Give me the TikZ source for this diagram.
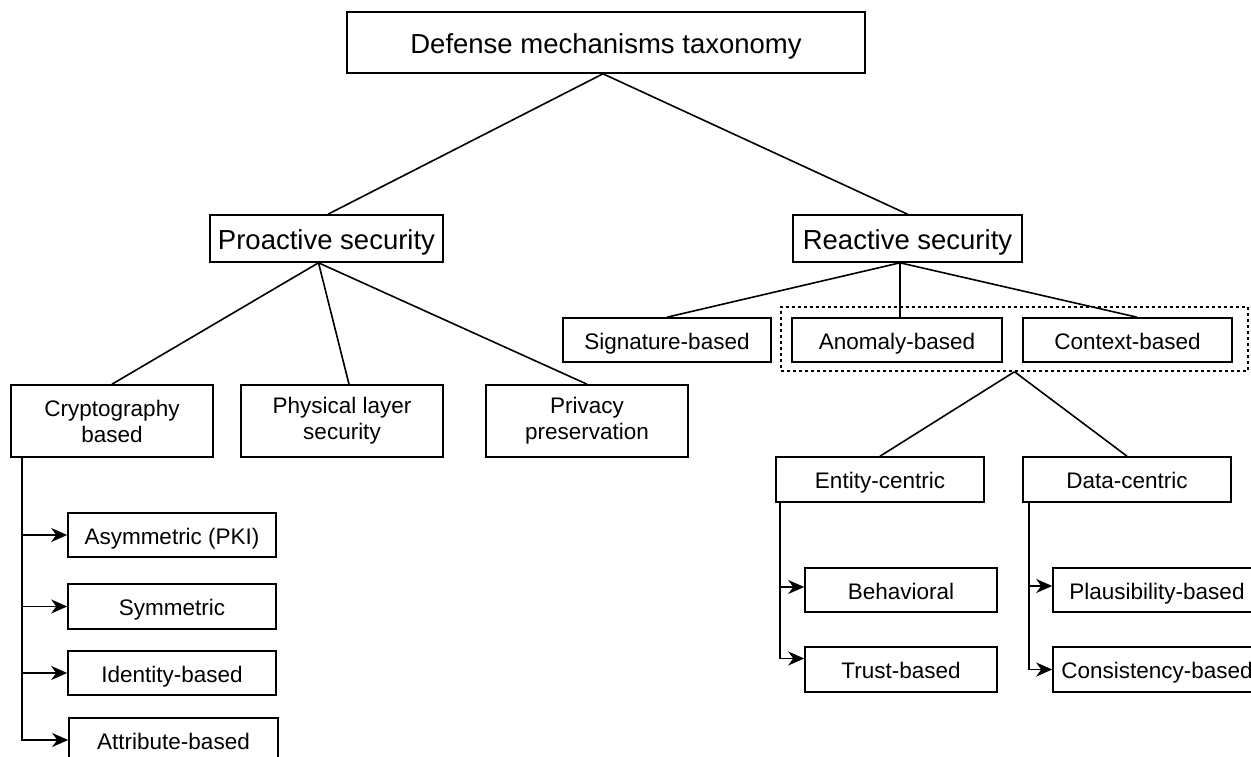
\documentclass[tikz,border=0pt]{standalone}
\usepackage{fontspec}
\setmainfont{Liberation Sans}
\usetikzlibrary{arrows.meta}
\begin{document}
\begin{tikzpicture}[x=1pt,y=-1pt,
  bx/.style={draw,line width=1.6pt,inner sep=0pt,align=center,minimum width=#1},
  big/.style={font=\fontsize{27.5}{33}\selectfont,text height=22pt,text depth=0pt},
  sm/.style={font=\fontsize{22.5}{26}\selectfont,text height=18pt,text depth=0pt},
  sm2/.style={font=\fontsize{22.5}{26}\selectfont},
  ln/.style={line width=1.6pt},
  arr/.style={line width=1.6pt,-{Stealth[length=16pt,width=14pt,inset=5pt]}}]
\useasboundingbox (0,0) rectangle (1251,757);
% level 0-1
\node[bx=518pt,big,minimum height=61pt] (top) at (606,42.5) {Defense mechanisms taxonomy};
\node[bx=233pt,big,minimum height=47pt] (pro) at (326.5,238.5) {Proactive security};
\node[bx=229pt,big,minimum height=47pt] (rea) at (907.5,238.5) {Reactive security};
% proactive children
\node[bx=202pt,sm2,minimum height=72pt] (cry) at (112,421) {Cryptography\\based};
\node[bx=202pt,sm2,minimum height=72pt] (phy) at (342,421) {Physical layer\\security};
\node[bx=202pt,sm2,minimum height=72pt] (pri) at (587,421) {Privacy\\preservation};
% crypto list
\node[bx=208pt,sm,minimum height=44pt] (asy) at (172,535) {Asymmetric (PKI)};
\node[bx=208pt,sm,minimum height=45pt] (sym) at (172,606.5) {Symmetric};
\node[bx=208pt,sm,minimum height=44pt] (ide) at (172,673) {Identity-based};
\node[bx=209pt,sm,minimum height=44pt] (att) at (173.5,740) {Attribute-based};
% reactive children
\node[bx=208pt,sm,minimum height=44pt] (sig) at (667,340) {Signature-based};
\node[bx=210pt,sm,minimum height=44pt] (ano) at (897,340) {Anomaly-based};
\node[bx=209pt,sm,minimum height=44pt] (ctx) at (1127.5,340) {Context-based};
\node[draw,line width=1.5pt,dashed,minimum width=467pt,minimum height=64pt,inner sep=0pt] (grp) at (1014.5,339) {};
\node[bx=208pt,sm,minimum height=45pt] (ent) at (880,479.5) {Entity-centric};
\node[bx=208pt,sm,minimum height=45pt] (dat) at (1127,479.5) {Data-centric};
\node[bx=192pt,sm,minimum height=44pt] (beh) at (901,590) {Behavioral};
\node[bx=192pt,sm,minimum height=45pt] (tru) at (901,669.5) {Trust-based};
\node[bx=208pt,sm,minimum height=44pt] (pla) at (1157,590) {Plausibility-based};
\node[bx=208pt,sm,minimum height=45pt] (con) at (1157,669.5) {Consistency-based};
% tree connectors
\draw[ln] ([xshift=-3pt]top.south) -- ([xshift=1.5pt]pro.north);
\draw[ln] ([xshift=-3pt]top.south) -- (rea.north);
\draw[ln] ([xshift=-8pt]pro.south) -- (cry.north);
\draw[ln] ([xshift=-8pt]pro.south) -- ([xshift=7pt]phy.north);
\draw[ln] ([xshift=-8pt]pro.south) -- (pri.north);
\draw[ln] ([xshift=-7.5pt]rea.south) -- (sig.north);
\draw[ln] ([xshift=-7.5pt]rea.south) -- ([xshift=3pt]ano.north);
\draw[ln] ([xshift=-7.5pt]rea.south) -- ([xshift=9.5pt]ctx.north);
\draw[ln] (grp.south) -- (ent.north);
\draw[ln] (grp.south) -- (dat.north);
% orthogonal arrows
\draw[arr] ([xshift=12pt]cry.south west) |- (asy.west);
\draw[arr] ([xshift=12pt]cry.south west) |- (sym.west);
\draw[arr] ([xshift=12pt]cry.south west) |- (ide.west);
\draw[arr] ([xshift=12pt]cry.south west) |- (att.west);
\draw[arr] ([xshift=5pt]ent.south west) |- ([yshift=3pt]beh.west);
\draw[arr] ([xshift=5pt]ent.south west) |- ([yshift=11pt]tru.west);
\draw[arr] ([xshift=7pt]dat.south west) |- ([yshift=4pt]pla.west);
\draw[arr] ([xshift=7pt]dat.south west) |- (con.west);
\end{tikzpicture}
\end{document}
